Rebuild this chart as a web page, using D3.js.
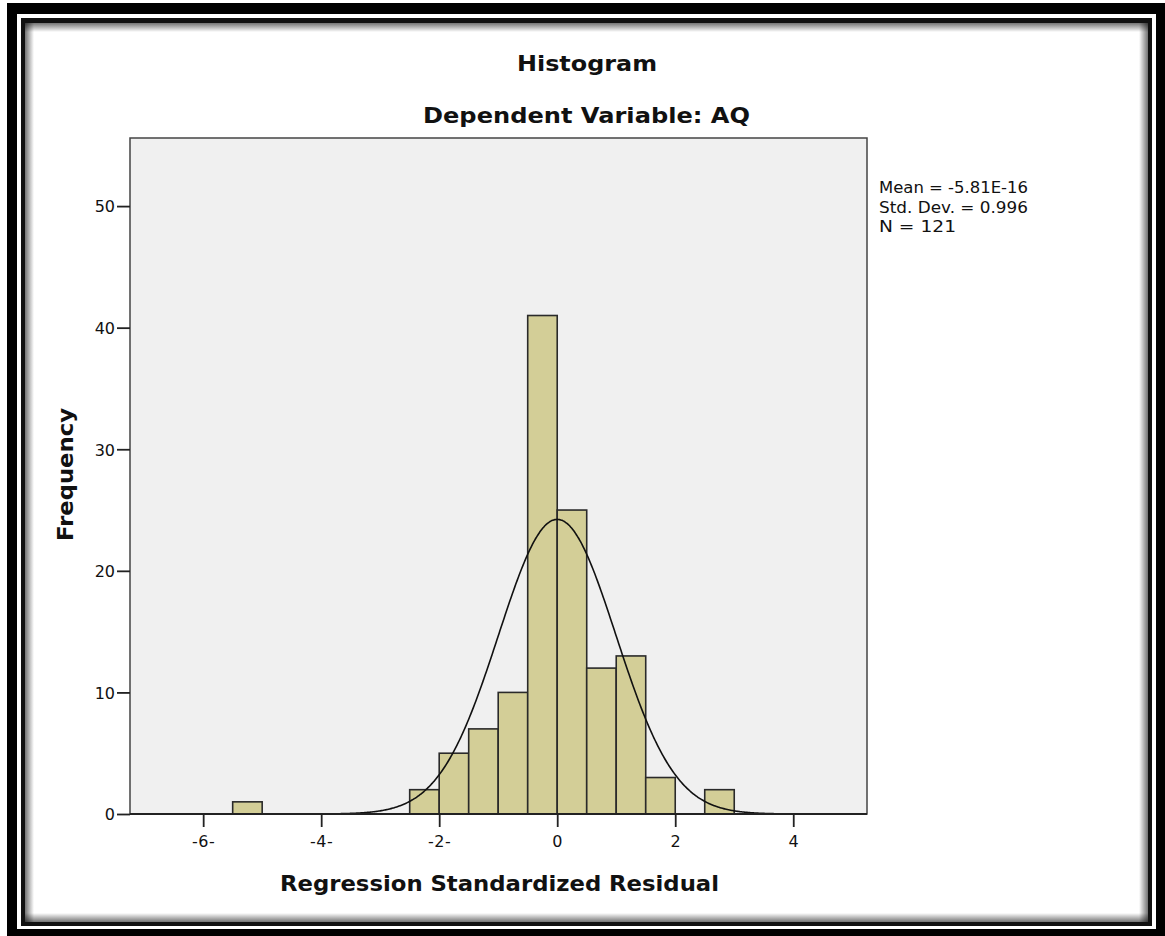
<!DOCTYPE html>
<html><head><meta charset="utf-8">
<script src="https://cdn.jsdelivr.net/npm/d3@7"></script>
<style>html,body{margin:0;padding:0;background:#fff;}svg{display:block;font-family:"DejaVu Sans",Verdana,sans-serif;}</style>
</head><body>
<script>
// ---- data ----
const binStarts = [-5.5, -2.5, -2.0, -1.5, -1.0, -0.5, 0.0, 0.5, 1.0, 1.5, 2.5];
const counts    = [1, 2, 5, 7, 10, 41, 25, 12, 13, 3, 2];
const binWidth = 0.5;
const xTicks = [-6, -4, -2, 0, 2, 4];
const xTickLabels = ["-6-", "-4-", "-2-", "0", "2", "4"];
const yTicks = [0, 10, 20, 30, 40, 50];
const statMean = -5.81e-16, statSd = 0.996, statN = 121;
const statLines = ["Mean = -5.81E-16", "Std. Dev. = 0.996", "N = 121"];

const W = 1165, H = 936;
const FONT = "DejaVu Sans, Verdana, sans-serif";
const svg = d3.select("body").append("svg").attr("width", W).attr("height", H);
const defs = svg.append("defs");

// frame
svg.append("rect").attr("x",7).attr("y",3).attr("width",W-7).attr("height",H-3).attr("fill","#000");
svg.append("rect").attr("x",17).attr("y",14).attr("width",1139).attr("height",915).attr("fill","#fff");
svg.append("rect").attr("x",21).attr("y",18).attr("width",1131).attr("height",908).attr("fill","#111");
svg.append("rect").attr("x",25).attr("y",23).attr("width",1123).attr("height",899).attr("fill","#fff");
function grad(id,x1,y1,x2,y2){
  const g=defs.append("linearGradient").attr("id",id).attr("x1",x1).attr("y1",y1).attr("x2",x2).attr("y2",y2);
  g.append("stop").attr("offset","0").attr("stop-color","#000").attr("stop-opacity",0.55);
  g.append("stop").attr("offset","1").attr("stop-color","#000").attr("stop-opacity",0);
}
grad("gT",0,0,0,1);grad("gB",0,1,0,0);grad("gL",0,0,1,0);grad("gR",1,0,0,0);
const sh=9;
svg.append("rect").attr("x",25).attr("y",23).attr("width",1123).attr("height",sh).attr("fill","url(#gT)");
svg.append("rect").attr("x",25).attr("y",922-sh).attr("width",1123).attr("height",sh).attr("fill","url(#gB)");
svg.append("rect").attr("x",25).attr("y",23).attr("width",sh).attr("height",899).attr("fill","url(#gL)");
svg.append("rect").attr("x",1148-sh).attr("y",23).attr("width",sh).attr("height",899).attr("fill","url(#gR)");

// plot area
const pl=130, pr=867, pt=138, pb=814;
const x = d3.scaleLinear().domain([-7.24, 5.25]).range([pl, pr]);
const y = d3.scaleLinear().domain([0, 55.6]).range([pb, pt]);

svg.append("rect").attr("x",pl).attr("y",pt).attr("width",pr-pl).attr("height",pb-pt)
  .attr("fill","#f0f0f0").attr("stroke","#444").attr("stroke-width",1.5);

// bars
svg.append("g").selectAll("rect").data(binStarts).join("rect")
  .attr("x",(d)=>x(d)).attr("width",(d)=>x(d+binWidth)-x(d))
  .attr("y",(d,i)=>y(counts[i])).attr("height",(d,i)=>y(0)-y(counts[i]))
  .attr("fill","#d3ce97").attr("stroke","#2a2a2a").attr("stroke-width",1.6);

// fitted normal curve (from reported mean, sd, N)
const xs = d3.range(x.domain()[0], x.domain()[1], 0.02);
const pdf = v => Math.exp(-0.5*Math.pow((v-statMean)/statSd,2))/(statSd*Math.sqrt(2*Math.PI));
const line = d3.line().x(v=>x(v)).y(v=>y(statN*binWidth*pdf(v))).curve(d3.curveBasis);
svg.append("path").attr("d",line(xs)).attr("fill","none").attr("stroke","#111").attr("stroke-width",1.6);

// baseline
svg.append("line").attr("x1",pl).attr("x2",pr).attr("y1",pb).attr("y2",pb).attr("stroke","#222").attr("stroke-width",1.8);

// axes
const xAxis = d3.axisBottom(x).tickValues(xTicks).tickSize(13).tickSizeOuter(0)
  .tickFormat((d,i)=>xTickLabels[i]);
const gx = svg.append("g").attr("transform",`translate(0,${pb})`).call(xAxis);
gx.select(".domain").remove();
gx.selectAll(".tick line").attr("stroke","#222").attr("stroke-width",1.8);
gx.selectAll(".tick text").attr("font-size",16).attr("fill","#111").attr("y",33).attr("dy",0)
  .attr("letter-spacing",0.5).attr("font-family",FONT);

const yAxis = d3.axisLeft(y).tickValues(yTicks).tickSize(13).tickSizeOuter(0).tickPadding(2);
const gy = svg.append("g").attr("transform",`translate(${pl},0)`).call(yAxis);
gy.select(".domain").remove();
gy.selectAll(".tick line").attr("stroke","#222").attr("stroke-width",1.8);
gy.selectAll(".tick text").attr("font-size",16).attr("fill","#111").attr("dy","0.36em")
  .attr("font-family",FONT);

// titles
function title(t, xx, yy, len, rot){
  const el = svg.append("text").attr("text-anchor","middle").attr("font-size",22).attr("font-weight","bold")
    .attr("fill","#111").attr("textLength",len).attr("lengthAdjust","spacingAndGlyphs").text(t);
  if (rot) el.attr("transform",`translate(${xx},${yy}) rotate(-90)`);
  else el.attr("x",xx).attr("y",yy);
}
title("Histogram", 587, 71, 140);
title("Dependent Variable: AQ", 586.5, 123, 327);
title("Regression Standardized Residual", 499.5, 891, 439);
title("Frequency", 73, 474.5, 133, true);

// stats
const statLen = [149, 149, 77];
svg.append("g").selectAll("text").data(statLines).join("text")
  .attr("x",879).attr("y",(d,i)=>193+i*19.5).attr("font-size",15.5).attr("fill","#111")
  .attr("textLength",(d,i)=>statLen[i]).attr("lengthAdjust","spacingAndGlyphs").text(d=>d);
</script>
</body></html>
